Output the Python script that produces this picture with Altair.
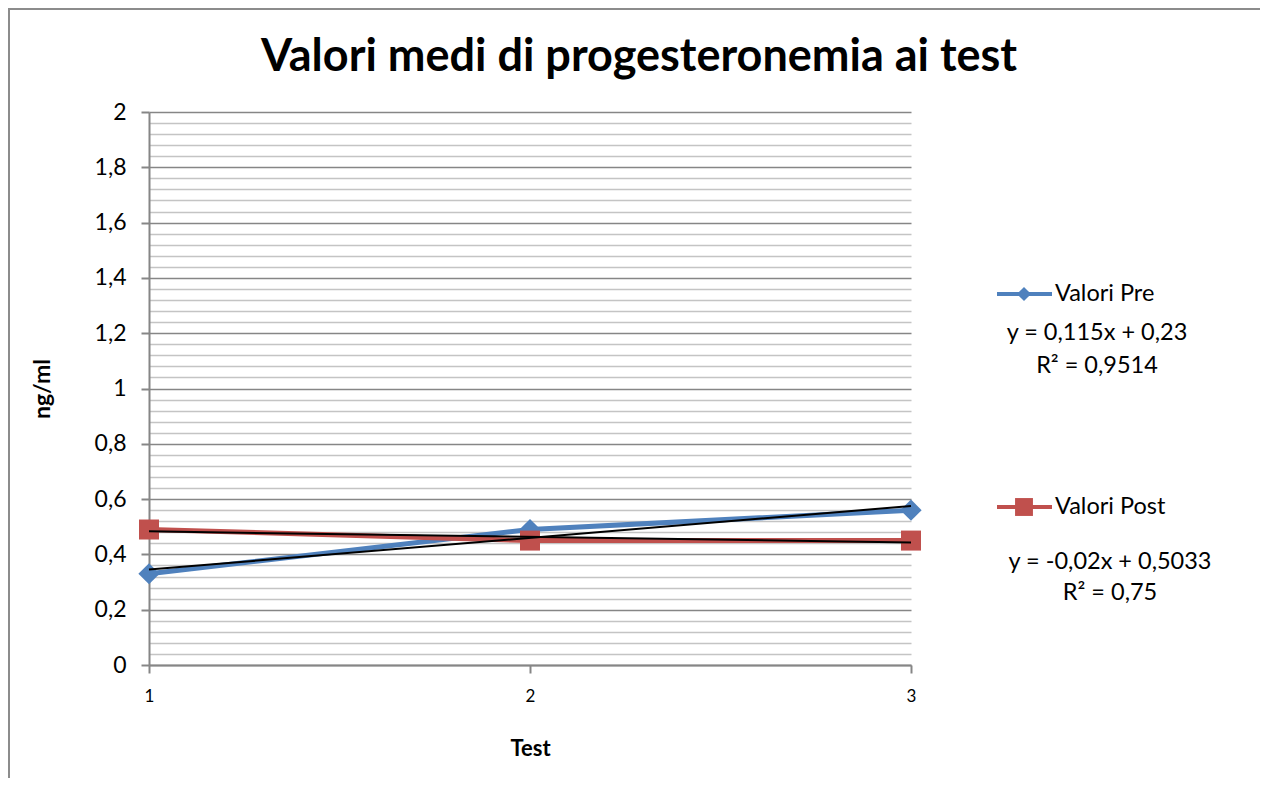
import altair as alt
import pandas as pd

# ---- data ----
tests = [1, 2, 3]
valori_pre = [0.33, 0.49, 0.56]
valori_post = [0.49, 0.45, 0.45]
series_names = ["Valori Pre", "Valori Post"]
series_colors = ["#4F81BD", "#C0504D"]
series_shapes = ["diamond", "square"]
equations = ["y = 0,115x + 0,23", "y = -0,02x + 0,5033"]
r_squared = ["R² = 0,9514", "R² = 0,75"]
x_ticks = [1, 2, 3]
y_ticks = [round(i * 0.04, 2) for i in range(51)]
title_text = "Valori medi di progesteronemia ai test"
x_title = "Test"
y_title = "ng/ml"

FONT = "Lato"
W, H = 762, 553

df = pd.DataFrame({
    "test": tests * 2,
    "value": valori_pre + valori_post,
    "series": [s for s in series_names for _ in tests],
})

MAJOR = "abs(datum.value*5 - round(datum.value*5)) < 0.001"

x_enc = alt.X(
    "test:Q",
    scale=alt.Scale(domain=[1, 3], nice=False, zero=False),
    axis=alt.Axis(
        values=x_ticks, tickCount=len(x_ticks), grid=False, title=x_title,
        labelExpr="toString(datum.value)",
        domainColor="#868686", domainWidth=2,
        tickColor="#868686", tickWidth=2, tickSize=8,
        labelFont=FONT, labelFontSize=17, labelColor="black", labelPadding=15,
        labelFlush=False, labelOverlap=False,
        titleFont=FONT, titleFontSize=22, titleFontWeight="bold", titleColor="black",
        titleX=W / 2, titleY=83, titleBaseline="middle", titleAlign="center",
    ),
)

y_enc = alt.Y(
    "value:Q",
    scale=alt.Scale(domain=[0, 2], nice=False, zero=True),
    axis=alt.Axis(
        values=y_ticks, tickCount=len(y_ticks), title=y_title,
        labelExpr=MAJOR + " ? replace(format(datum.value, '.1~f'), '.', ',') : ''",
        gridColor={"condition": {"test": MAJOR, "value": "#868686"}, "value": "#C4C4C4"},
        gridWidth=1.5,
        tickColor={"condition": {"test": MAJOR, "value": "#868686"}, "value": "transparent"},
        tickWidth=2, tickSize=8,
        domainColor="#868686", domainWidth=2,
        labelFont=FONT, labelFontSize=23, labelColor="black", labelPadding=15,
        labelOverlap=False,
        titleFont=FONT, titleFontSize=23, titleFontWeight="bold", titleColor="black",
        titleX=-107, titleY=H / 2, titleAngle=-90, titleBaseline="middle", titleAlign="center",
    ),
)

layers = []

# outer chart border (top and left visible)
layers.append(
    alt.Chart(alt.Data(values=[{"b": 1}])).mark_rect(
        fillOpacity=0, stroke="#8C8C8C", strokeWidth=2
    ).encode(x=alt.value(-140), x2=alt.value(1300), y=alt.value(-103), y2=alt.value(900))
)

# title
layers.append(
    alt.Chart(alt.Data(values=[{"t": title_text}])).mark_text(
        font=FONT, fontSize=45, fontWeight="bold", color="black",
        align="center", baseline="middle"
    ).encode(text="t:N", x=alt.value(490), y=alt.value(-55))
)

# series lines + markers
for name, col, shp in zip(series_names, series_colors, series_shapes):
    base = alt.Chart(df).transform_filter(alt.datum.series == name)
    layers.append(base.mark_line(color=col, strokeWidth=5).encode(x=x_enc, y=y_enc))
    layers.append(
        base.mark_point(shape=shp, filled=True, color=col, opacity=1,
                        size=450 if shp == "diamond" else 400).encode(x=x_enc, y=y_enc)
    )

# linear trend lines
layers.append(
    alt.Chart(df).transform_regression("test", "value", groupby=["series"], extent=[1, 3])
    .mark_line(color="black", strokeWidth=2)
    .encode(x=x_enc, y=y_enc, detail="series:N")
)

# manual legend with trend-line equations
LEG = 23.5
legend_y = [182, 395]
eq_x = [948, 961]
eq_y = [(221, 254), (450, 481)]
for i, (name, col, shp) in enumerate(zip(series_names, series_colors, series_shapes)):
    d = alt.Data(values=[{"label": name, "eq": equations[i], "r2": r_squared[i]}])
    ly = legend_y[i]
    layers.append(alt.Chart(d).mark_rule(color=col, strokeWidth=4).encode(
        x=alt.value(848), x2=alt.value(903), y=alt.value(ly)))
    layers.append(alt.Chart(d).mark_point(shape=shp, filled=True, color=col, opacity=1,
                                          size=200 if shp == "diamond" else 320).encode(
        x=alt.value(875), y=alt.value(ly)))
    layers.append(alt.Chart(d).mark_text(font=FONT, fontSize=LEG, color="black",
                                         align="left", baseline="middle").encode(
        text="label:N", x=alt.value(906), y=alt.value(ly)))
    layers.append(alt.Chart(d).mark_text(font=FONT, fontSize=LEG, color="black",
                                         align="center", baseline="middle").encode(
        text="eq:N", x=alt.value(eq_x[i]), y=alt.value(eq_y[i][0])))
    layers.append(alt.Chart(d).mark_text(font=FONT, fontSize=LEG, color="black",
                                         align="center", baseline="middle").encode(
        text="r2:N", x=alt.value(eq_x[i]), y=alt.value(eq_y[i][1])))

chart = alt.layer(*layers).properties(
    width=W, height=H,
    autosize=alt.AutoSizeParams(type="none"),
    padding={"left": 141, "top": 104, "right": 349, "bottom": 113},
    background="white",
).configure_view(stroke="transparent")

chart.save("out.html", embed_options={"renderer": "svg", "actions": False})
